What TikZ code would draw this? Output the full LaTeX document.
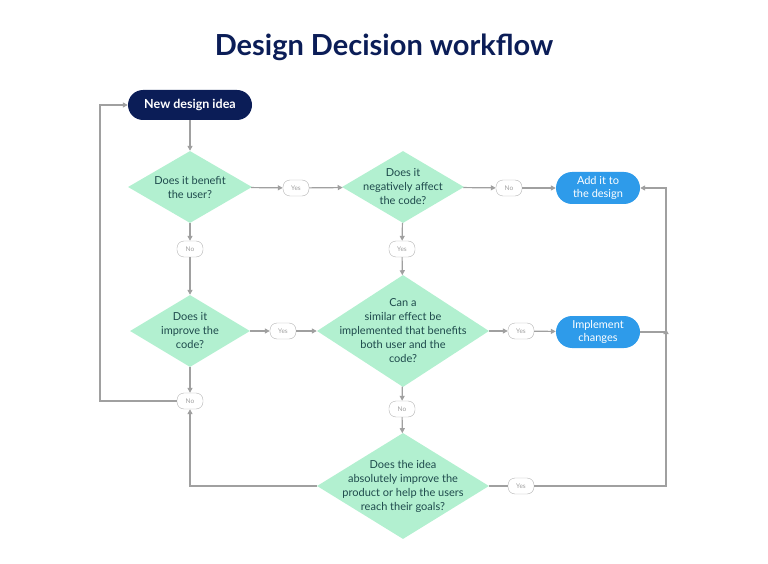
\documentclass[tikz,border=0pt]{standalone}
\usepackage{fontspec}
\setmainfont{Lato}
\usetikzlibrary{shapes.geometric,arrows.meta}
\definecolor{navy}{HTML}{0B1D57}
\definecolor{mint}{HTML}{B2F0D0}
\definecolor{dtext}{HTML}{1E4A4C}
\definecolor{bluebox}{HTML}{2E9BEA}
\definecolor{lgray}{HTML}{A0A0A0}
\begin{document}
\begin{tikzpicture}[x=1pt,y=-1pt,
  startbox/.style={rounded corners=15pt,fill=navy,text=white,minimum width=124pt,minimum height=30pt,font=\fontsize{12.5}{14}\selectfont\bfseries,inner sep=0pt},
  endbox/.style={rounded corners=16pt,fill=bluebox,text=white,minimum width=84pt,minimum height=32pt,font=\fontsize{11}{12.5}\selectfont,align=center,inner sep=0pt},
  dia/.style={diamond,fill=mint,inner sep=0pt},
  dtxt/.style={text=dtext,align=center,inner sep=0pt,font=\fontsize{11}{14}\selectfont},
  lbl/.style={draw=lgray!80,fill=white,rounded corners=7pt,minimum width=26pt,minimum height=16pt,inner sep=0pt,text=lgray,font=\fontsize{6.5}{7}\selectfont},
  conn/.style={draw=lgray,line width=1.2pt},
  arr/.style={conn,-{Triangle[length=5pt,width=5pt]}}
]
\useasboundingbox (0,0) rectangle (768,564);
\node[font=\fontsize{29}{32}\selectfont\bfseries,text=navy] (title) at (384,47) {Design Decision workflow};

\node[startbox] (start) at (190,105) {New design idea};

\node[dia,minimum width=124pt,minimum height=72pt] (d1) at (190,187) {};
\node[dtxt] (t1) at (d1) {Does it benefit\\the user?};
\node[dia,minimum width=122pt,minimum height=72pt] (d2) at (403,187) {};
\node[dtxt] (t2) at (d2) {Does it\\negatively affect\\the code?};
\node[endbox] (add) at (598,188) {Add it to\\the design};

\node[dia,minimum width=120pt,minimum height=72pt] (d3) at (190,331) {};
\node[dtxt] (t3) at (d3) {Does it\\improve the\\code?};
\node[dia,minimum width=172pt,minimum height=112pt] (d4) at (403,331) {};
\node[dtxt] (t4) at (d4) {Can a\\similar effect be\\implemented that benefits\\both user and the\\code?};
\node[endbox] (impl) at (598,332) {Implement\\changes};

\node[dia,minimum width=172pt,minimum height=106pt] (d5) at (403,486) {};
\node[dtxt] (t5) at (d5) {Does the idea\\absolutely improve the\\product or help the users\\reach their goals?};

\node[lbl] (y1) at (296,188) {Yes};
\node[lbl] (n1) at (509,188) {No};
\node[lbl] (n2) at (190,249) {No};
\node[lbl] (y2) at (402,249) {Yes};
\node[lbl] (y3) at (283,331) {Yes};
\node[lbl] (y4) at (521,331) {Yes};
\node[lbl] (n3) at (402,409) {No};
\node[lbl] (n4) at (190,401) {No};
\node[lbl] (y5) at (521,486) {Yes};

\coordinate (rb) at (666,486);
\coordinate (rm) at (666,332);
\coordinate (rt) at (666,188);
\coordinate (lb) at (100,401);
\coordinate (lt) at (100,105);
\coordinate (bl) at (190,486);

\draw[arr] (start) -- (d1);
\draw[arr] (d1) -- (y1);
\draw[arr] (y1) -- (d2);
\draw[arr] (d2) -- (n1);
\draw[arr] (n1) -- (add);
\draw[arr] (d1) -- (n2);
\draw[arr] (n2) -- (d3);
\draw[arr] (d2) -- (y2);
\draw[arr] (y2) -- (d4);
\draw[arr] (d3) -- (y3);
\draw[arr] (y3) -- (d4);
\draw[arr] (d4) -- (y4);
\draw[arr] (y4) -- (impl);
\draw[arr] (d4) -- (n3);
\draw[arr] (n3) -- (d5);
\draw[arr] (d3) -- (n4);
\draw[conn] (d5) -- (y5);
\draw[arr] (y5) -- (rb) -- ([yshift=3pt]rm);
\draw[conn] (impl) -- (rm);
\draw[arr] (rm) -- (rt) -- (add);
\draw[arr] (d5) -- (bl) -- (n4);
\draw[arr] (n4) -- (lb) -- (lt) -- (start);
\end{tikzpicture}
\end{document}
